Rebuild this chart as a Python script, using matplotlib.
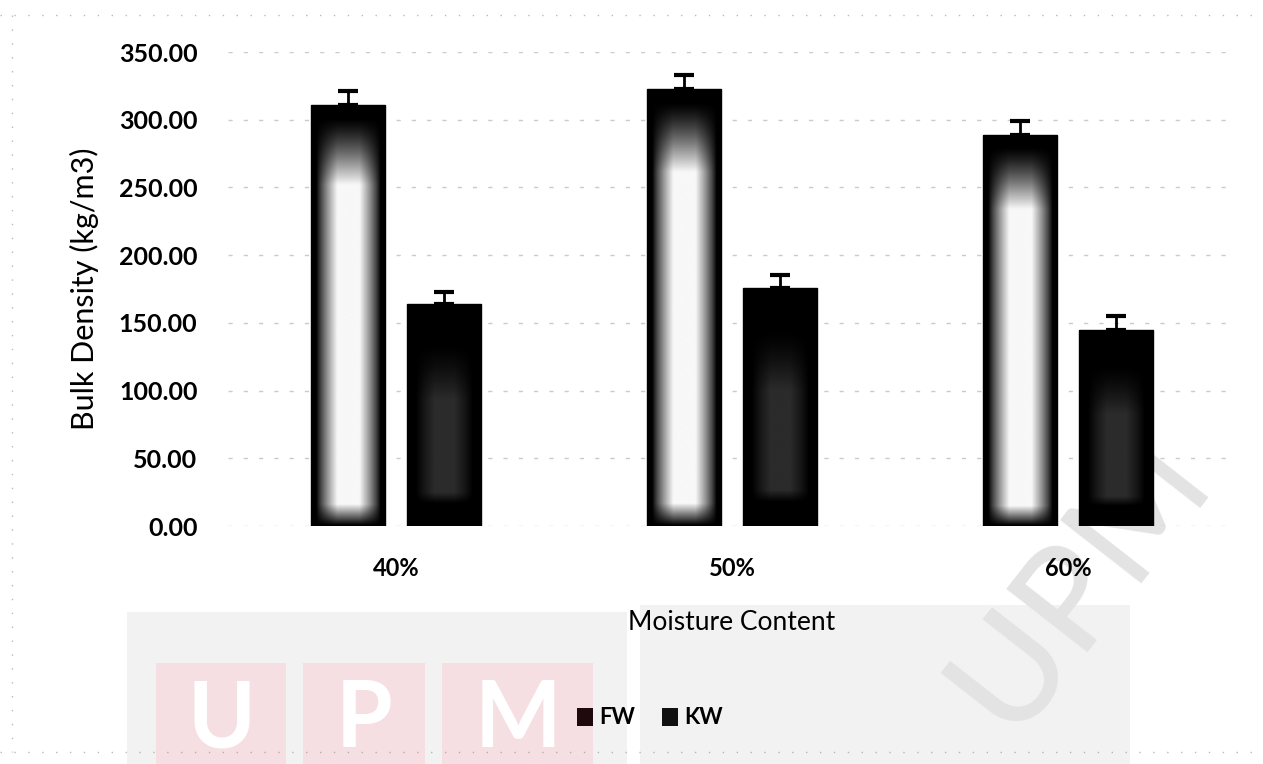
import numpy as np
import matplotlib.pyplot as plt
from matplotlib.patches import Rectangle, Patch

# 수분 함량별 부피 밀도 데이터
moisture = ['40%', '50%', '60%']
fw_density = [311.0, 323.0, 289.0]
kw_density = [164.0, 176.0, 145.0]
fw_err = [10.0, 10.0, 10.0]
kw_err = [9.0, 9.0, 10.0]
yticks = [0, 50, 100, 150, 200, 250, 300, 350]

plt.rcParams['font.family'] = ['Lato', 'DejaVu Sans']

W, H = 1263, 764
fig = plt.figure(figsize=(W / 100, H / 100), dpi=100)

# 배경 (워터마크, 점선 테두리) - 픽셀 좌표계
bg = fig.add_axes([0, 0, 1, 1], zorder=0)
bg.set_xlim(0, W)
bg.set_ylim(H, 0)
bg.axis('off')

bg.add_patch(Rectangle((127, 612), 500, 160, color='#f2f2f2', lw=0))
bg.add_patch(Rectangle((640, 605), 490, 170, color='#f2f2f2', lw=0))
for x0, x1, letter in [(156, 286, 'U'), (303, 425, 'P'), (442, 593, 'M')]:
    bg.add_patch(Rectangle((x0, 663), x1 - x0, 110, color='#f6dfe2', lw=0))
    bg.text((x0 + x1) / 2, 763, letter, color='white', fontsize=66,
            fontweight='bold', ha='center', va='bottom')
bg.text(1080, 582, 'UPM', color='#e3e3e3', fontsize=104, rotation=52,
        ha='center', va='center', fontweight='medium')

for y in (15, 752):
    bg.plot([0, W], [y, y], color='#8c8c8c', lw=1, ls=(0, (1, 9)), alpha=0.6)
bg.plot([12, 12], [15, 752], color='#8c8c8c', lw=1, ls=(0, (1, 9)), alpha=0.6)

# 막대 그래프
ax = fig.add_axes([228 / W, 1 - 526 / H, (1236 - 228) / W, (526 - 52) / H], zorder=1)
ax.patch.set_alpha(0)

x = np.arange(len(moisture))
bw = 0.221
off = 0.142
fw_bars = ax.bar(x - off, fw_density, bw, color='black', edgecolor='black', lw=1, zorder=2)
kw_bars = ax.bar(x + off, kw_density, bw, color='black', edgecolor='black', lw=1, zorder=2)


def fill_gradient(patch, peak, edge, soft, top_len, v_lo, v_hi):
    # 막대 안쪽 그라데이션 (가장자리 검정, 가운데 밝게)
    x0, y0 = patch.get_x(), patch.get_y()
    w, h = patch.get_width(), patch.get_height()
    u = np.linspace(0, 1, 80)
    v = np.linspace(0, 1, 240)
    U, V = np.meshgrid(u, v)
    d = 0.5 - np.abs(U - 0.5)
    hx = np.clip((d - edge) / soft, 0, 1) ** 0.8
    top = np.clip((v_hi - V) / top_len, 0, 1)
    bottom = np.clip((V - v_lo) / 0.05, 0, 1)
    img = peak * hx * top ** 1.3 * bottom
    im = ax.imshow(img, extent=[x0, x0 + w, y0, y0 + h], origin='lower',
                   aspect='auto', cmap='gray', vmin=0, vmax=1,
                   interpolation='bilinear', zorder=2.5)
    im.set_clip_path(patch)


for b in fw_bars:
    fill_gradient(b, 0.97, 0.07, 0.28, 0.16, 0.0, 0.97)
for b in kw_bars:
    fill_gradient(b, 0.17, 0.12, 0.25, 0.25, 0.1, 0.82)

ax.errorbar(x - off, fw_density, yerr=[[0] * 3, fw_err], fmt='none',
            ecolor='black', elinewidth=2, capsize=7, capthick=3, zorder=3)
ax.errorbar(x + off, kw_density, yerr=[[0] * 3, kw_err], fmt='none',
            ecolor='black', elinewidth=2, capsize=7, capthick=3, zorder=3)

ax.set_xlim(-0.5, 2.5)
ax.set_ylim(0, 350)
ax.set_yticks(yticks)
ax.set_yticklabels([f'{t:.2f}' for t in yticks], fontsize=18, fontweight='bold')
ax.set_xticks(x)
ax.set_xticklabels(moisture, fontsize=17, fontweight='bold')
ax.tick_params(length=0)
ax.tick_params(axis='y', pad=22)
ax.tick_params(axis='x', pad=22)
for s in ax.spines.values():
    s.set_visible(False)

ax.grid(axis='y', color='#b5b5b5', lw=1, ls=(0, (3, 8)), alpha=0.7, zorder=0)
ax.set_axisbelow(True)

ax.set_ylabel('Bulk Density (kg/m3)', fontsize=22, labelpad=14)
ax.set_xlabel('Moisture Content', fontsize=19, labelpad=22)

handles = [Patch(facecolor='#1e0a0c', edgecolor='none'),
           Patch(facecolor='#111111', edgecolor='none')]
fig.legend(handles, ['FW', 'KW'], loc='center', bbox_to_anchor=(650 / W, 1 - 718 / H),
           ncol=2, frameon=False, prop={'size': 16, 'weight': 'bold'},
           handlelength=0.7, handleheight=0.9, handletextpad=0.3, columnspacing=1.2)

fig.savefig('out.png', dpi=100)
